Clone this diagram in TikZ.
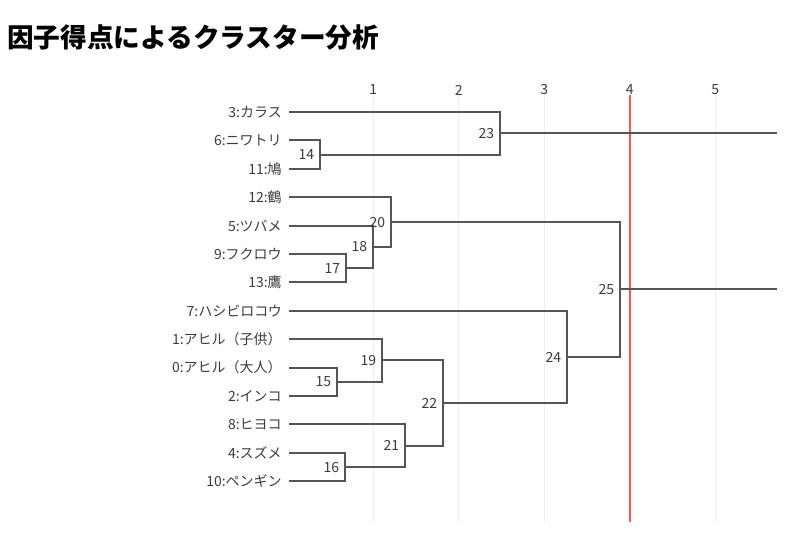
\documentclass[tikz,border=0pt]{standalone}
\usepackage{fontspec}
\setmainfont{Noto Sans CJK JP}
\usepackage{xcolor}
\usetikzlibrary{positioning}

\definecolor{linegray}{RGB}{85,85,85}
\definecolor{labelgray}{RGB}{60,60,60}
\definecolor{gridgray}{RGB}{238,238,238}
\definecolor{cutred}{RGB}{255,85,85}

\begin{document}
\begin{tikzpicture}[x=0.75pt, y=-0.75pt]
  % 定义样式
  \tikzset{edge/.style = {draw, linegray, line width=1.4pt}}
  \tikzset{leaf/.style = {text=labelgray, font=\fontsize{10.5}{12}\selectfont, inner sep=0pt, node distance=5.25pt}}
  \tikzset{num/.style = {text=labelgray, font=\fontsize{10.5}{12}\selectfont, anchor=east, inner sep=2pt, xshift=-2.25pt}}
  \tikzset{grid/.style = {draw, gridgray, line width=0.8pt}}

  \useasboundingbox (0,0) rectangle (805,558);

  % 标题
  \node[anchor=west, inner sep=0pt, font=\fontsize{20}{24}\selectfont\bfseries] (title) at (7,37) {因子得点によるクラスター分析};

  % 网格与刻度
  \draw[grid] (373.3,95) -- (373.3,522);
  \draw[grid] (458.8,95) -- (458.8,522);
  \draw[grid] (544.3,95) -- (544.3,522);
  \draw[grid] (715.3,95) -- (715.3,522);
  \node[leaf] (t1) at (373.3,90) {1};
  \node[leaf] (t2) at (458.8,90) {2};
  \node[leaf] (t3) at (544.3,90) {3};
  \node[leaf] (t4) at (629.8,90) {4};
  \node[leaf] (t5) at (715.3,90) {5};

  % 定义叶
  \coordinate (l3) at (289,112);
  \coordinate (l6) at (289,140.4);
  \coordinate (l11) at (289,168.8);
  \coordinate (l12) at (289,197.2);
  \coordinate (l5) at (289,225.6);
  \coordinate (l9) at (289,254);
  \coordinate (l13) at (289,282.4);
  \coordinate (l7) at (289,310.8);
  \coordinate (l1) at (289,339.2);
  \coordinate (l0) at (289,367.6);
  \coordinate (l2) at (289,396);
  \coordinate (l8) at (289,424.4);
  \coordinate (l4) at (289,452.8);
  \coordinate (l10) at (289,481.2);

  \node[leaf, left=of l3] (n3) {3:カラス};
  \node[leaf, left=of l6] (n6) {6:ニワトリ};
  \node[leaf, left=of l11] (n11) {11:鳩};
  \node[leaf, left=of l12] (n12) {12:鶴};
  \node[leaf, left=of l5] (n5) {5:ツバメ};
  \node[leaf, left=of l9] (n9) {9:フクロウ};
  \node[leaf, left=of l13] (n13) {13:鷹};
  \node[leaf, left=of l7] (n7) {7:ハシビロコウ};
  \node[leaf, left=of l1] (n1) {1:アヒル（子供）};
  \node[leaf, left=of l0] (n0) {0:アヒル（大人）};
  \node[leaf, left=of l2] (n2) {2:インコ};
  \node[leaf, left=of l8] (n8) {8:ヒヨコ};
  \node[leaf, left=of l4] (n4) {4:スズメ};
  \node[leaf, left=of l10] (n10) {10:ペンギン};

  % 定义合并点
  \coordinate (m14) at (320,154.6);
  \coordinate (m23) at (500,133.3);
  \coordinate (m17) at (346,268.2);
  \coordinate (m18) at (373,246.9);
  \coordinate (m20) at (391,222.1);
  \coordinate (m15) at (337,381.8);
  \coordinate (m19) at (382,360.3);
  \coordinate (m16) at (345,467);
  \coordinate (m21) at (405,445.7);
  \coordinate (m22) at (443,403.1);
  \coordinate (m24) at (567,357);
  \coordinate (m25) at (620,289.3);
  \coordinate (e23) at (777,133.3);
  \coordinate (e25) at (777,289.3);

  % 切断线
  \draw[cutred, line width=1.5pt] (629.8,95) -- (629.8,522);

  % 定义边
  \draw[edge] (l6) -| (m14) |- (l11);
  \draw[edge] (l3) -| (m23) |- (m14);
  \draw[edge] (l9) -| (m17) |- (l13);
  \draw[edge] (l5) -| (m18) |- (m17);
  \draw[edge] (l12) -| (m20) |- (m18);
  \draw[edge] (l0) -| (m15) |- (l2);
  \draw[edge] (l1) -| (m19) |- (m15);
  \draw[edge] (l4) -| (m16) |- (l10);
  \draw[edge] (l8) -| (m21) |- (m16);
  \draw[edge] (m19) -| (m22) |- (m21);
  \draw[edge] (l7) -| (m24) |- (m22);
  \draw[edge] (m20) -| (m25) |- (m24);
  \draw[edge] (m23) -- (e23);
  \draw[edge] (m25) -- (e25);

  % 合并标签
  \node[num] (k14) at (m14) {14};
  \node[num] (k23) at (m23) {23};
  \node[num] (k17) at (m17) {17};
  \node[num] (k18) at (m18) {18};
  \node[num] (k20) at (m20) {20};
  \node[num] (k15) at (m15) {15};
  \node[num] (k19) at (m19) {19};
  \node[num] (k16) at (m16) {16};
  \node[num] (k21) at (m21) {21};
  \node[num] (k22) at (m22) {22};
  \node[num] (k24) at (m24) {24};
  \node[num] (k25) at (m25) {25};
\end{tikzpicture}
\end{document}
